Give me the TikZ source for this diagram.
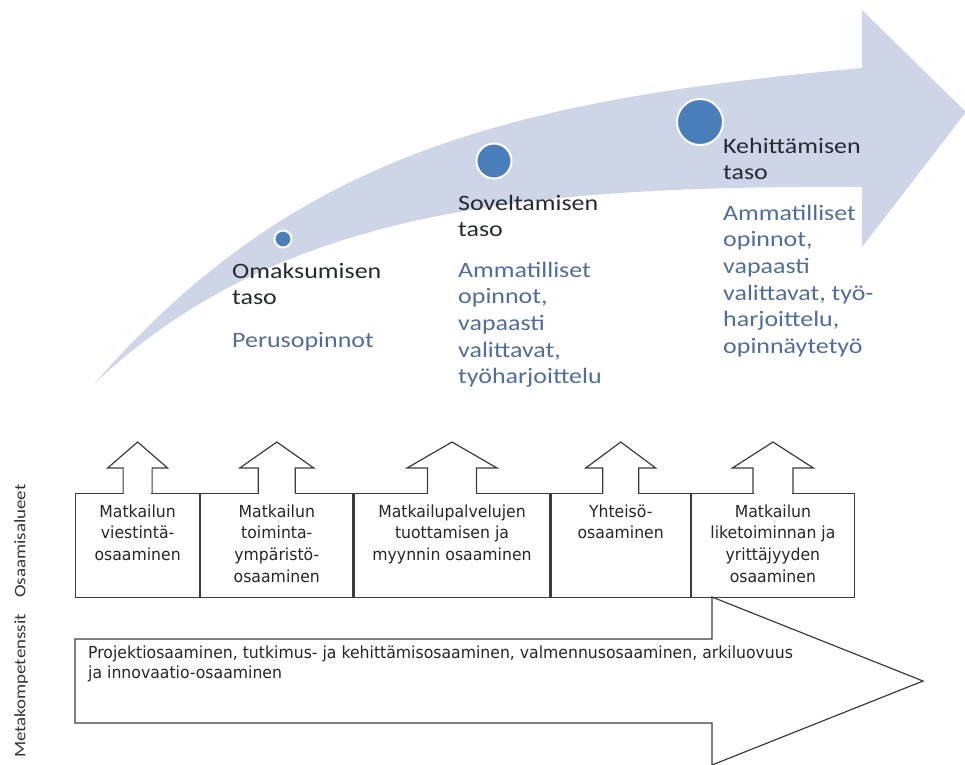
\documentclass[tikz,border=0pt]{standalone}
\usepackage{fontspec}
\usepackage{tikz}
\usetikzlibrary{positioning}
\newfontfamily\calib[FakeStretch=1.18]{Carlito}
\newfontfamily\tahom[FakeStretch=0.945]{DejaVu Sans}
\definecolor{bandblue}{RGB}{205,213,230}
\definecolor{dotblue}{RGB}{74,126,187}
\definecolor{headtext}{RGB}{38,42,50}
\definecolor{desctext}{RGB}{80,110,150}
\definecolor{boxline}{RGB}{60,60,60}

\begin{document}
\begin{tikzpicture}[
    x=1pt, y=-1pt,
    level/.style={font=\calib\fontsize{22}{26.7}\selectfont, text=headtext, align=left, anchor=base west, inner sep=0pt},
    studies/.style={level, text=desctext},
    dot/.style={circle, fill=dotblue, draw=white, line width=2pt, minimum size=#1, inner sep=0pt},
    areabox/.style={draw=boxline, line width=1.2pt, minimum width=#1, minimum height=104pt, inner sep=0pt, anchor=north west},
    areatext/.style={font=\tahom\fontsize{16.6}{21.7}\selectfont, text=black!85, align=center, inner sep=0pt},
    side/.style={font=\calib\fontsize{16}{19}\selectfont, text=black!80, rotate=90, inner sep=0pt}
]
\useasboundingbox (0,0) rectangle (965,764);
\clip (0,0) rectangle (965,764);

% curved arrow with the three levels
\fill[bandblue] (95,383) .. controls (295,153) and (512,100) .. (862,68) -- (862,10) -- (966,112)
    -- (862,247) -- (862,187) .. controls (512,185) and (275,214) .. cycle;

\node[dot=17pt] (d1) at (283,239) {};
\node[dot=35pt] (d2) at (494,161) {};
\node[dot=46pt] (d3) at (700,122) {};

% base = last line
\node[level] (L1) at (232,304.7) {Omaksumisen\\taso};
\node[studies] (S1) at (232,347) {Perusopinnot};
\node[level] (L2) at (458,236.7) {Soveltamisen\\taso};
\node[studies] (S2) at (458,383.8) {Ammatilliset\\opinnot,\\vapaasti\\valittavat,\\työharjoittelu};
\node[level] (L3) at (723,179.7) {Kehittämisen\\taso};
\node[studies] (S3) at (723,353.5) {Ammatilliset\\opinnot,\\vapaasti\\valittavat, työ-\\harjoittelu,\\opinnäytetyö};

% osaamisalueet
\node[areabox=124pt] (box1) at (75,493) {};
\node[areabox=152pt, right=0pt of box1] (box2) {};
\node[areabox=196pt, right=0pt of box2] (box3) {};
\node[areabox=139pt, right=0pt of box3] (box4) {};
\node[areabox=163pt, right=0pt of box4] (box5) {};

\node[areatext, below=67.4pt of box1.north, anchor=base] (t1) {Matkailun\\viestintä-\\osaaminen};
\node[areatext, below=89.1pt of box2.north, anchor=base] (t2) {Matkailun\\toiminta-\\ympäristö-\\osaaminen};
\node[areatext, below=67.4pt of box3.north, anchor=base] (t3) {Matkailupalvelujen\\tuottamisen ja\\myynnin osaaminen};
\node[areatext, below=45.7pt of box4.north, anchor=base] (t4) {Yhteisö-\\osaaminen};
\node[areatext, below=89.1pt of box5.north, anchor=base] (t5) {Matkailun\\liketoiminnan ja\\yrittäjyyden\\osaaminen};

\foreach \b/\s/\h in {box1/14.5/30, box2/18.5/37, box3/24.5/45, box4/18/35, box5/20/40.5} {
    \fill[white] ([xshift=-\s pt+0.7pt, yshift=1.5pt]\b.north) rectangle ([xshift=\s pt-0.7pt, yshift=-1.5pt]\b.north);
    \draw[boxline, line width=1.2pt, line join=miter] (\b.north) ++(-\s,0) -- ++(0,-25) -- ++({\s-\h},0)
        -- ++(\h,-26) -- ++(\h,26) -- ++({\s-\h},0) -- ++(0,25);
}

% metakompetenssit
\draw[boxline, line width=1.2pt] (75,639) -- (712,639) -- (712,597) -- (923,681) -- (712,765)
    -- (712,723) -- (75,723) -- cycle;
\node[areatext, font=\tahom\fontsize{16.6}{20}\selectfont, align=left, anchor=base west] (meta) at (88,678)
    {Projektiosaaminen, tutkimus- ja kehittämisosaaminen, valmennusosaaminen, arkiluovuus\\ja innovaatio-osaaminen};

\node[side] (osa) at (20,541) {Osaamisalueet};
\node[side] (metak) at (21,686) {Metakompetenssit};

\end{tikzpicture}
\end{document}
